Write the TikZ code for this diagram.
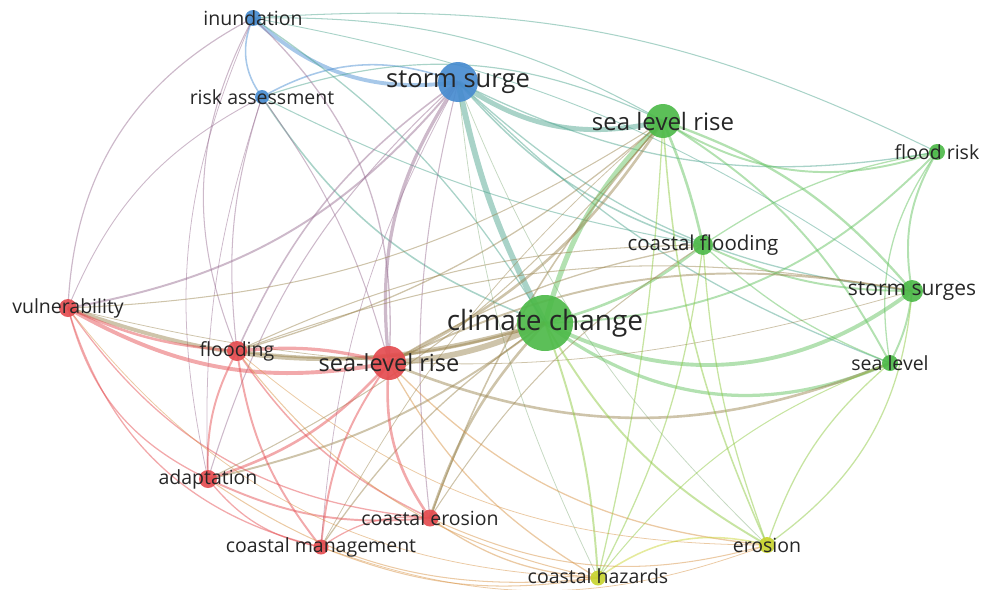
\documentclass[tikz,border=0pt]{standalone}
\usepackage{fontspec}
\setmainfont{Open Sans}

\definecolor{cR}{RGB}{228,76,80}
\definecolor{cG}{RGB}{78,186,74}
\definecolor{cB}{RGB}{72,140,208}
\definecolor{cY}{RGB}{200,212,48}
\colorlet{eRR}{cR}
\colorlet{eGG}{cG!90!white}
\colorlet{eBB}{cB}
\colorlet{eBG}{cB!50!cG}
\colorlet{eBR}{cB!50!cR}
\colorlet{eGR}{cG!50!cR}
\colorlet{eGY}{cG!50!cY}
\colorlet{eRY}{cR!50!cY}
\colorlet{eBY}{cB!50!cY}
\colorlet{txt}{black!85}

\pgfdeclarelayer{links}
\pgfsetlayers{links,main}

\tikzset{
  kw/.style={circle, inner sep=0pt, draw=none, fill opacity=0.92},
  lbl/.style={font=\fontsize{19.5}{20}\selectfont, text=txt, inner sep=0pt},
  lblL/.style={font=\fontsize{#1}{#1}\selectfont, text=txt, inner sep=0pt},
}

% link between two keyword nodes: from, to, width, bend, colour
\newcommand\lnk[5]{\draw[line width={1.3*#3}, draw=#5, draw opacity=0.48]
  (#1.center) to[bend left=#4] (#2.center);}

\begin{document}
\begin{tikzpicture}[x=1pt, y=-1pt]
\useasboundingbox (0,0) rectangle (981,589);

% keyword nodes
\node[kw, minimum size=16, fill=cB] (IN)   at (253,18)  {};
\node[kw, minimum size=14, fill=cB] (RA)   at (262,97)  {};
\node[kw, minimum size=40, fill=cB] (SS)   at (458,82)  {};
\node[kw, minimum size=34, fill=cG] (SLR)  at (663,121) {};
\node[kw, minimum size=16, fill=cG] (FR)   at (937,152) {};
\node[kw, minimum size=20, fill=cG] (CF)   at (703,245) {};
\node[kw, minimum size=22, fill=cG] (SSS)  at (912,291) {};
\node[kw, minimum size=56, fill=cG] (CC)   at (545,323) {};
\node[kw, minimum size=16, fill=cG] (SL)   at (890,363) {};
\node[kw, minimum size=18, fill=cR] (VU)   at (68,308)  {};
\node[kw, minimum size=20, fill=cR] (FL)   at (237,351) {};
\node[kw, minimum size=34, fill=cR] (SLRB) at (389,363) {};
\node[kw, minimum size=18, fill=cR] (AD)   at (208,479) {};
\node[kw, minimum size=17, fill=cR] (CE)   at (430,518) {};
\node[kw, minimum size=15, fill=cR] (CM)   at (321,547) {};
\node[kw, minimum size=16, fill=cY] (ER)   at (767,545) {};
\node[kw, minimum size=15, fill=cY] (CH)   at (598,578) {};

% labels
\node[lbl] (tIN)   at (IN)   {inundation};
\node[lbl] (tRA)   at (RA)   {risk assessment};
\node[lblL=25.5] (tSS) at (SS) {storm surge};
\node[lblL=24] (tSLR) at (SLR) {sea level rise};
\node[lbl] (tFR)   at (FR)   {flood risk};
\node[lblL=20.5] (tCF) at (CF) {coastal flooding};
\node[lblL=21] (tSSS) at (SSS) {storm surges};
\node[lblL=28] (tCC) at (CC) {climate change};
\node[lbl] (tSL)   at (SL)   {sea level};
\node[lbl] (tVU)   at (VU)   {vulnerability};
\node[lbl] (tFL)   at (FL)   {flooding};
\node[lblL=23.5] (tSLRB) at (SLRB) {sea-level rise};
\node[lbl] (tAD)   at (AD)   {adaptation};
\node[lbl] (tCE)   at (CE)   {coastal erosion};
\node[lbl] (tCM)   at (CM)   {coastal management};
\node[lbl] (tER)   at (ER)   {erosion};
\node[lbl] (tCH)   at (598,576) {coastal hazards};

\begin{pgfonlayer}{links}
% blue cluster
\lnk{IN}{SS}{3.0}{-25}{eBB}
\lnk{IN}{RA}{1.2}{-30}{eBB}
\lnk{RA}{SS}{1.2}{25}{eBB}
% blue - green
\lnk{SS}{SLR}{3.8}{-24}{eBG}
\lnk{SS}{CC}{4.5}{-8}{eBG}
\lnk{IN}{CC}{1.0}{12}{eBG}
\lnk{IN}{SLR}{0.8}{15}{eBG}
\lnk{IN}{FR}{0.8}{15}{eBG}
\lnk{IN}{SSS}{0.7}{12}{eBG}
\lnk{RA}{SLR}{0.9}{22}{eBG}
\lnk{RA}{CC}{1.2}{-18}{eBG}
\lnk{RA}{CF}{0.8}{-8}{eBG}
\lnk{SS}{CF}{1.2}{-15}{eBG}
\lnk{SS}{SL}{1.0}{-12}{eBG}
\lnk{SS}{SSS}{1.0}{-18}{eBG}
\lnk{SS}{FR}{1.0}{-18}{eBG}
% blue - red
\lnk{IN}{VU}{0.9}{-30}{eBR}
\lnk{IN}{FL}{0.8}{-25}{eBR}
\lnk{IN}{AD}{0.6}{-18}{eBR}
\lnk{IN}{SLRB}{1.0}{25}{eBR}
\lnk{RA}{VU}{0.7}{-20}{eBR}
\lnk{RA}{FL}{0.8}{-12}{eBR}
\lnk{RA}{SLRB}{0.8}{10}{eBR}
\lnk{RA}{AD}{0.6}{-10}{eBR}
\lnk{SS}{SLRB}{2.5}{-20}{eBR}
\lnk{SS}{FL}{1.2}{-15}{eBR}
\lnk{VU}{SS}{1.5}{-20}{eBR}
\lnk{SS}{AD}{0.8}{-15}{eBR}
\lnk{SS}{CE}{0.8}{-10}{eBR}
\lnk{SS}{CM}{0.6}{-12}{eBR}
% blue - yellow
\lnk{SS}{CH}{0.6}{-10}{eBY}
\lnk{SS}{ER}{0.6}{-12}{eBY}
% green cluster
\lnk{SLR}{CC}{4.0}{-15}{eGG}
\lnk{SLR}{CF}{2.0}{5}{eGG}
\lnk{SLR}{SSS}{1.8}{15}{eGG}
\lnk{SLR}{SL}{1.5}{15}{eGG}
\lnk{SLR}{FR}{1.5}{-25}{eGG}
\lnk{CC}{CF}{2.0}{-12}{eGG}
\lnk{CC}{SSS}{3.0}{-32}{eGG}
\lnk{CC}{SL}{2.5}{-30}{eGG}
\lnk{CC}{FR}{1.5}{-22}{eGG}
\lnk{CF}{SSS}{1.5}{-12}{eGG}
\lnk{CF}{FR}{1.0}{12}{eGG}
\lnk{CF}{SL}{1.0}{-10}{eGG}
\lnk{SSS}{FR}{1.5}{20}{eGG}
\lnk{SSS}{SL}{1.5}{10}{eGG}
\lnk{SL}{FR}{1.0}{22}{eGG}
% green - red
\lnk{CC}{SLRB}{4.5}{10}{eGR}
\lnk{VU}{CC}{3.0}{-18}{eGR}
\lnk{CC}{FL}{2.0}{12}{eGR}
\lnk{CC}{AD}{1.5}{12}{eGR}
\lnk{CC}{CE}{2.0}{-12}{eGR}
\lnk{CC}{CM}{1.0}{-10}{eGR}
\lnk{SLR}{SLRB}{2.0}{15}{eGR}
\lnk{VU}{SLR}{0.8}{-15}{eGR}
\lnk{SLR}{FL}{1.0}{12}{eGR}
\lnk{SLR}{AD}{0.8}{12}{eGR}
\lnk{SLR}{CE}{1.2}{-10}{eGR}
\lnk{SLR}{CM}{0.6}{-10}{eGR}
\lnk{CF}{SLRB}{1.0}{-10}{eGR}
\lnk{CF}{FL}{0.8}{-12}{eGR}
\lnk{CF}{CE}{0.8}{-12}{eGR}
\lnk{SSS}{SLRB}{1.5}{-18}{eGR}
\lnk{SLRB}{SL}{2.0}{-22}{eGR}
\lnk{SSS}{FL}{0.8}{-15}{eGR}
\lnk{VU}{SSS}{0.6}{-15}{eGR}
% green - yellow
\lnk{CC}{ER}{1.5}{-15}{eGY}
\lnk{CC}{CH}{1.5}{8}{eGY}
\lnk{SLR}{ER}{1.2}{-10}{eGY}
\lnk{SLR}{CH}{1.0}{5}{eGY}
\lnk{CF}{ER}{1.0}{-8}{eGY}
\lnk{CF}{CH}{1.0}{10}{eGY}
\lnk{ER}{SSS}{1.0}{-25}{eGY}
\lnk{SL}{ER}{1.0}{-15}{eGY}
\lnk{SL}{CH}{0.8}{-15}{eGY}
% red cluster
\lnk{VU}{SLRB}{3.0}{-20}{eRR}
\lnk{VU}{FL}{2.0}{-10}{eRR}
\lnk{VU}{AD}{1.0}{-25}{eRR}
\lnk{VU}{CM}{1.0}{-30}{eRR}
\lnk{VU}{CE}{1.0}{-25}{eRR}
\lnk{FL}{SLRB}{2.5}{10}{eRR}
\lnk{FL}{AD}{1.5}{-15}{eRR}
\lnk{FL}{CM}{1.5}{-15}{eRR}
\lnk{FL}{CE}{1.2}{-15}{eRR}
\lnk{AD}{SLRB}{2.0}{-15}{eRR}
\lnk{SLRB}{CE}{2.0}{-20}{eRR}
\lnk{SLRB}{CM}{1.5}{-15}{eRR}
\lnk{AD}{CM}{1.0}{-20}{eRR}
\lnk{AD}{CE}{1.5}{-15}{eRR}
\lnk{CE}{CM}{1.0}{-20}{eRR}
% red - yellow
\lnk{SLRB}{CH}{1.0}{-15}{eRY}
\lnk{SLRB}{ER}{1.0}{-20}{eRY}
\lnk{FL}{CH}{0.8}{-20}{eRY}
\lnk{FL}{ER}{0.6}{-20}{eRY}
\lnk{AD}{CH}{0.8}{-20}{eRY}
\lnk{CE}{CH}{1.0}{-15}{eRY}
\lnk{CE}{ER}{0.8}{-20}{eRY}
\lnk{CM}{CH}{0.8}{-15}{eRY}
\lnk{CM}{ER}{0.6}{-20}{eRY}
\lnk{VU}{CH}{0.6}{-25}{eRY}
% yellow cluster
\lnk{CH}{ER}{1.2}{25}{cY}
\end{pgfonlayer}
\end{tikzpicture}
\end{document}
